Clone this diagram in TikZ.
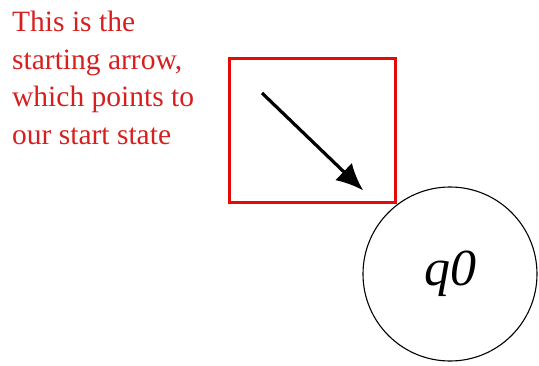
\documentclass[tikz,border=0pt]{standalone}
\usepackage{fontspec}
\setmainfont{Liberation Serif}
\usetikzlibrary{arrows.meta}
\definecolor{notered}{RGB}{214,32,32}
\definecolor{framered}{RGB}{228,10,10}

\begin{document}
\begin{tikzpicture}[x=1pt,y=-1pt]
  \useasboundingbox (0,0) rectangle (539,365);
  \node[anchor=north west,align=left,text=notered,inner sep=0pt,
        font=\fontsize{29.5}{37.5}\selectfont] (note) at (12,11)
    {This is the\\starting arrow,\\which points to\\our start state};
  \node[draw=framered,line width=3pt,minimum width=166pt,minimum height=144pt,
        inner sep=0pt] (frame) at (312,130) {};
  \node[draw,circle,line width=1.1pt,minimum size=174pt,inner sep=0pt,
        font=\fontsize{52}{52}\selectfont\itshape] (q0) at (450,274) {q0};
  \coordinate (start) at (262,93);
  \draw[line width=3.2pt,-{Latex[length=27pt,width=24pt]},shorten >=33pt]
    (start) -- (q0);
\end{tikzpicture}
\end{document}
